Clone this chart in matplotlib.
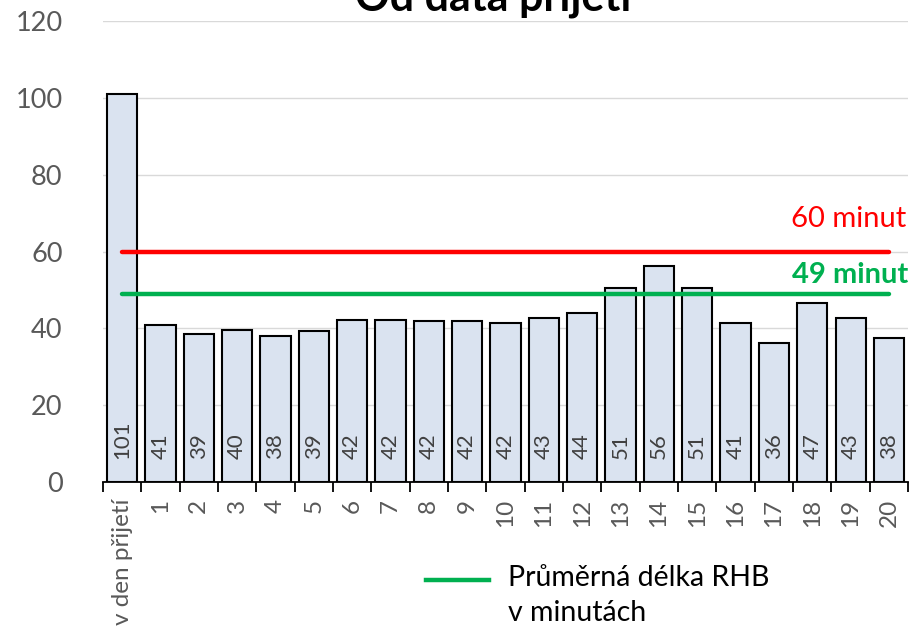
import numpy as np
from matplotlib import pyplot as plt
from matplotlib.lines import Line2D

plt.rcParams['font.family'] = ['Lato', 'DejaVu Sans']

categories = ["v den přijetí"] + [str(i) for i in range(1, 21)]
values = [101, 40.8, 38.6, 39.6, 38.1, 39.2, 42.3, 42.3, 41.8, 41.9, 41.5,
          42.8, 44.1, 50.6, 56.1, 50.6, 41.3, 36.3, 46.6, 42.6, 37.5]
limit = 60
average = 49

x = np.arange(len(categories))

fig = plt.figure(figsize=(9.1, 6.28), dpi=100)
ax = fig.add_axes([0.113, 0.2325, 0.885, 0.734])

ax.bar(x, values, width=0.79, color="#DAE3F0", edgecolor="black", linewidth=1.5, zorder=2)
for xi, v in zip(x, values):
    ax.text(xi, 6, f"{v:.0f}", rotation=90, ha="center", va="bottom",
            fontsize=16, color="#404040", zorder=3)

ax.plot([x[0], x[-1]], [limit, limit], color="#FF0000", lw=3.2,
        solid_capstyle="round", zorder=4)
ax.plot([x[0], x[-1]], [average, average], color="#00B050", lw=3.2,
        solid_capstyle="round", zorder=4)
ax.text(20.45, limit + 6.5, f"{limit} minut", color="#FF0000", fontsize=21,
        ha="right", va="baseline")
ax.text(20.5, average + 2.9, f"{average} minut", color="#00B050", fontsize=21,
        fontweight="bold", ha="right", va="baseline")

ax.set_xlim(-0.5, 20.5)
ax.set_ylim(0, 120)
ax.set_yticks(range(0, 121, 20))
ax.yaxis.grid(True, color="#D9D9D9", lw=1, zorder=0)
ax.tick_params(axis="y", length=0, labelsize=19.5, labelcolor="#595959", pad=29)

ax.set_xticks(x)
ax.set_xticklabels(categories, rotation=90, fontsize=17.5, color="#595959")
ax.set_xticks(np.arange(-0.5, 21, 1), minor=True)
ax.tick_params(axis="x", which="major", length=0, pad=12)
ax.tick_params(axis="x", which="minor", length=7, width=1.3, color="black")

for s in ["top", "right", "left"]:
    ax.spines[s].set_visible(False)
ax.spines["bottom"].set_linewidth(1.3)

fig.text(0.542, 0.984, "Od data přijetí", fontsize=31, fontweight="bold",
         ha="center", va="baseline")

# legend drawn by hand so the line sits next to the first text line
fig.add_artist(Line2D([426 / 910, 489 / 910], [1 - 580 / 628] * 2,
                      color="#00B050", lw=3.2))
fig.text(508 / 910, 1 - 565 / 628, "Průměrná délka RHB\nv minutách",
         fontsize=20.5, ha="left", va="top", linespacing=1.45)

fig.savefig("out.png", dpi=100)
